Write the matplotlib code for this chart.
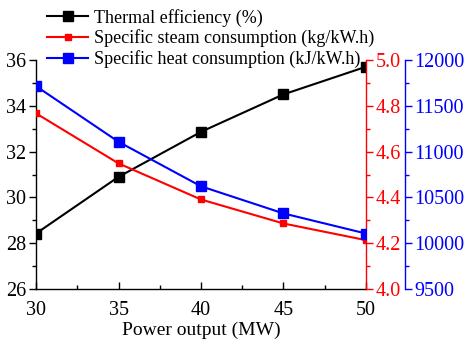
import matplotlib
matplotlib.use("Agg")
import matplotlib.pyplot as plt
from matplotlib.ticker import MultipleLocator

plt.rcParams['font.family'] = ['Liberation Serif', 'DejaVu Serif']

power = [30, 35, 40, 45, 50]
efficiency = [28.42, 30.90, 32.87, 34.51, 35.72]
steam = [4.768, 4.549, 4.391, 4.286, 4.213]
heat = [11718, 11109, 10622, 10325, 10105]

labels = ["Thermal efficiency (%)",
          "Specific steam consumption (kg/kW.h)",
          "Specific heat consumption (kJ/kW.h)"]

RED = "#ff0000"
BLUE = "#0000ff"

fig = plt.figure(figsize=(4.74, 3.43), dpi=100)
ax = fig.add_axes([0.076, 0.158, 0.696, 0.666])
ax_r = ax.twinx()
ax_b = ax.twinx()

l1, = ax.plot(power, efficiency, color="black", lw=1.5, marker="s", ms=6.8,
              label=labels[0])
l2, = ax_r.plot(power, steam, color=RED, lw=1.5, marker="s", ms=5,
                label=labels[1])
l3, = ax_b.plot(power, heat, color=BLUE, lw=1.5, marker="s", ms=6.8,
                label=labels[2])

ax.set_xlim(30, 50)
ax.set_ylim(26, 36)
ax_r.set_ylim(4.0, 5.0)
ax_b.set_ylim(9500, 12000)

ax.xaxis.set_major_locator(MultipleLocator(5))
ax.xaxis.set_minor_locator(MultipleLocator(2.5))
ax.yaxis.set_major_locator(MultipleLocator(2))
ax.yaxis.set_minor_locator(MultipleLocator(1))
ax_r.yaxis.set_major_locator(MultipleLocator(0.2))
ax_r.yaxis.set_minor_locator(MultipleLocator(0.1))
ax_b.yaxis.set_major_locator(MultipleLocator(500))
ax_b.yaxis.set_minor_locator(MultipleLocator(250))
ax_r.yaxis.set_major_formatter(plt.FormatStrFormatter('%.1f'))

fs = 14.5
ax.tick_params(axis='x', which='major', direction='in', length=5, width=1,
               labelsize=fs, pad=9)
ax.tick_params(axis='x', which='minor', direction='in', length=3, width=1)
ax.tick_params(axis='y', which='major', direction='out', length=5, width=1,
               labelsize=fs, pad=2)
ax.tick_params(axis='y', which='minor', direction='out', length=3, width=1)

ax_r.tick_params(axis='y', which='major', direction='out', length=5, width=1,
                 labelsize=fs, colors=RED, pad=2)
ax_r.tick_params(axis='y', which='minor', direction='out', length=3, width=1,
                 colors=RED)
ax_b.tick_params(axis='y', which='major', direction='out', length=5, width=1,
                 labelsize=fs, colors=BLUE, pad=2)
ax_b.tick_params(axis='y', which='minor', direction='out', length=3, width=1,
                 colors=BLUE)

for a in (ax, ax_r, ax_b):
    a.spines['top'].set_visible(False)
ax.spines['right'].set_visible(False)
ax_r.spines['left'].set_visible(False)
ax_b.spines['left'].set_visible(False)
ax_r.spines['bottom'].set_visible(False)
ax_b.spines['bottom'].set_visible(False)
ax_r.spines['right'].set_color(RED)
ax_b.spines['right'].set_color(BLUE)
ax_b.spines['right'].set_position(('outward', 39 * 72 / 100))
for a in (ax, ax_r, ax_b):
    for s in a.spines.values():
        s.set_linewidth(1.0)

ax.set_xlabel("Power output (MW)", fontsize=14, labelpad=1)

leg = ax_b.legend(handles=[l1, l2, l3], loc='lower left',
                  bbox_to_anchor=(0.033, 0.966), frameon=False, fontsize=13,
                  handlelength=2.3, handletextpad=0.3, labelspacing=0.15,
                  borderaxespad=0, borderpad=0)

fig.savefig("out.png", dpi=100)
